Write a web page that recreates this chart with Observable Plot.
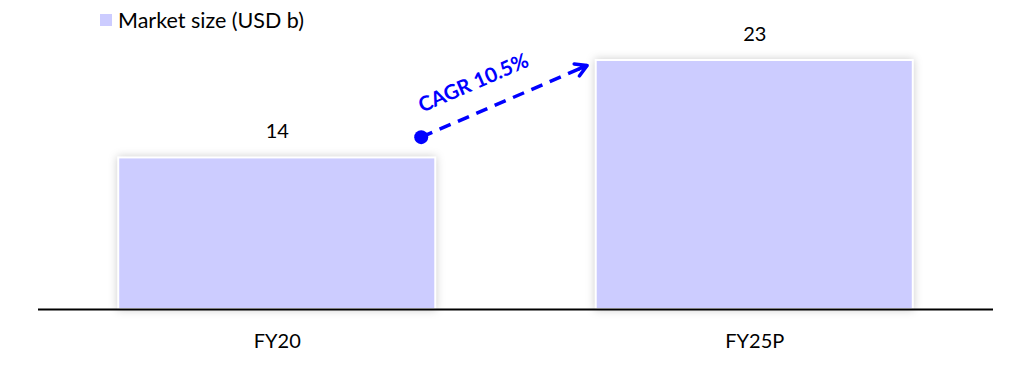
<!DOCTYPE html>
<html><head><meta charset="utf-8">
<script src="https://cdn.jsdelivr.net/npm/d3@7"></script>
<script src="https://cdn.jsdelivr.net/npm/@observablehq/plot@0.6"></script>
<style>
body{margin:0;background:#fff;font-family:Lato,sans-serif;}
#wrap{position:relative;width:1021px;height:370px;}
#legend{position:absolute;left:100px;top:7px;display:flex;align-items:center;font-size:21.5px;line-height:26px;color:#000;z-index:2;}
#legend .sw{display:inline-block;width:12px;height:12px;background:#CCCCFF;margin-right:6px;}
g[aria-label="rect"] rect{filter:drop-shadow(0 0 4px rgba(0,0,0,0.2));}
</style></head>
<body><div id="wrap"><div id="legend"></div></div>
<script>
const categories = ["FY20", "FY25P"];
const marketSize = [14, 23];
const seriesName = "Market size (USD b)";
const cagrLabel = "CAGR 10.5%";
// annotation anchors in data units (x = category index, y = value)
const cagrStart = [{x: 0.3015, y: 15.92}];
const cagrEnd = [{x: 0.649, y: 22.54}];
const cagrTextPos = [{x: 0.411, y: 20.9}];

const barColor = "#CCCCFF";
const blue = "#0000FF";
const halfWidth = 0.332;

const data = categories.map((c, i) => ({cat: c, idx: i, value: marketSize[i]}));
const seg = [{x1: cagrStart[0].x, y1: cagrStart[0].y, x2: cagrEnd[0].x, y2: cagrEnd[0].y}];

document.getElementById("legend").innerHTML = `<span class="sw"></span><span>${seriesName}</span>`;

const chart = Plot.plot({
  width: 1021,
  height: 370,
  marginLeft: 38,
  marginRight: 28,
  marginTop: 60,
  marginBottom: 61,
  style: {fontFamily: "Lato, sans-serif", fontSize: "20px", color: "#000", background: "#fff"},
  x: {domain: [-0.5, 1.5], ticks: [0, 1], tickFormat: i => categories[i], tickSize: 0, tickPadding: 24, label: null},
  y: {domain: [0, 23], axis: null},
  marks: [
    Plot.rectY(data, {x1: d => d.idx - halfWidth, x2: d => d.idx + halfWidth, y1: 0, y2: "value", fill: barColor, stroke: "#fff", strokeWidth: 2}),
    Plot.ruleY([0], {stroke: "#000", strokeWidth: 2}),
    Plot.text(data, {x: "idx", y: "value", text: d => String(d.value), dy: -26, fontSize: 20, fill: "#000"}),
    Plot.link(seg, {x1: "x1", y1: "y1", x2: "x2", y2: "y2", stroke: blue, strokeWidth: 3.5, strokeDasharray: "12,8"}),
    Plot.arrow(seg, {x1: "x1", y1: "y1", x2: "x2", y2: "y2", stroke: blue, strokeWidth: 3.5, headLength: 5.6, insetStart: 172}),
    Plot.dot(cagrStart, {x: "x", y: "y", r: 7, fill: blue}),
    Plot.text(cagrTextPos, {x: "x", y: "y", text: () => cagrLabel, rotate: -23.5, fill: blue, fontWeight: "bold", fontSize: 20.5})
  ]
});
document.getElementById("wrap").appendChild(chart);
</script>
</body></html>
